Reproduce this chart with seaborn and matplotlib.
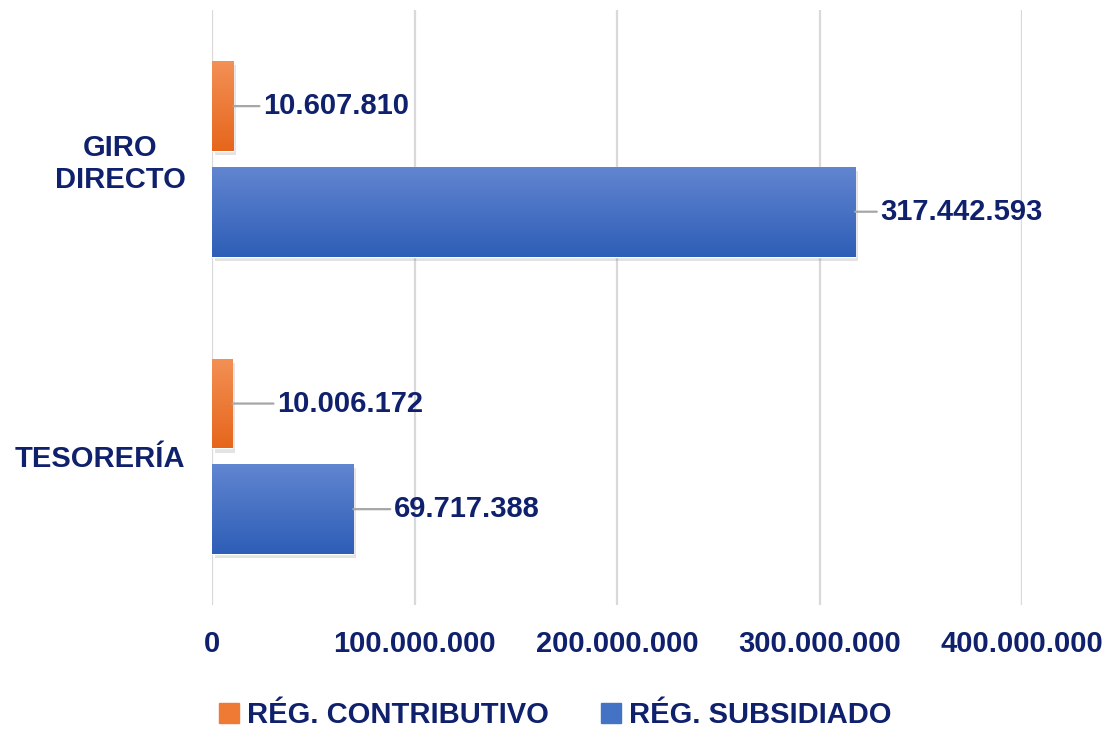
import numpy as np
import pandas as pd
import matplotlib
matplotlib.use("Agg")
import matplotlib.pyplot as plt
import matplotlib.patheffects as pe
from matplotlib.colors import to_rgb
import seaborn as sns

categories = ["GIRO\nDIRECTO", "TESORERÍA"]
series_names = ["RÉG. CONTRIBUTIVO", "RÉG. SUBSIDIADO"]
contributivo = [10607810, 10006172]
subsidiado = [317442593, 69717388]
x_ticks = [0, 100000000, 200000000, 300000000, 400000000]

# label offsets (points) per series, per category
label_offsets = [[21, 32], [18, 29]]

NAVY = "#0F206C"
GRID = "#D9D9D9"
grad = {
    "RÉG. CONTRIBUTIVO": ("#F39055", "#E6661C"),
    "RÉG. SUBSIDIADO": ("#6185D0", "#2E5EB7"),
}
mid_colors = {"RÉG. CONTRIBUTIVO": "#EE7A33", "RÉG. SUBSIDIADO": "#4472C4"}

df = pd.DataFrame({
    "categoria": categories * 2,
    "regimen": [series_names[0]] * 2 + [series_names[1]] * 2,
    "valor": contributivo + subsidiado,
})

sns.set_theme(style="white")
plt.rcParams["font.family"] = ["Liberation Sans", "DejaVu Sans"]
plt.rcParams["font.weight"] = "bold"

fig = plt.figure(figsize=(11.1, 7.29), dpi=100)
ax = fig.add_axes([0.191, 0.170, 0.730, 0.816])

sns.barplot(data=df, y="categoria", x="valor", hue="regimen",
            hue_order=series_names, order=categories, orient="h",
            palette=mid_colors, saturation=1, errorbar=None,
            width=0.71, gap=0.15, ax=ax, legend=False)

# gradient fill + soft shadow on each bar
for cont, name in zip(ax.containers, series_names):
    top, bot = (np.array(to_rgb(c)) for c in grad[name])
    g = np.linspace(0, 1, 64)[:, None, None]
    img = top * (1 - g) + bot * g
    for bar in cont:
        bar.set_path_effects([pe.SimplePatchShadow(offset=(2, -3), alpha=0.15, shadow_rgbFace="#444444"),
                              pe.Normal()])
        x0, y0 = bar.get_x(), bar.get_y()
        w, h = bar.get_width(), bar.get_height()
        im = ax.imshow(img, extent=(x0, x0 + w, y0 + h, y0), origin="upper",
                       aspect="auto", zorder=bar.get_zorder() + 0.1, interpolation="bilinear")
        im.set_clip_path(bar)

ax.set_xlim(0, 400000000)
ax.set_ylim(1.5, -0.5)

# data labels with leader lines
for cont, offs in zip(ax.containers, label_offsets):
    for bar, off in zip(cont, offs):
        v = bar.get_width()
        yc = bar.get_y() + bar.get_height() / 2
        ax.annotate(f"{int(round(v)):,}".replace(",", "."), xy=(v, yc),
                    xytext=(off, 0), textcoords="offset points",
                    ha="left", va="center", fontsize=21, fontweight="bold",
                    color=NAVY, annotation_clip=False,
                    arrowprops=dict(arrowstyle="-", color="#A6A6A6", lw=1.6,
                                    shrinkA=0, shrinkB=0))

ax.set_xticks(x_ticks)
ax.set_xticklabels([f"{t:,}".replace(",", ".") for t in x_ticks])
ax.grid(axis="x", color=GRID, lw=1.6)
ax.set_axisbelow(True)
for s in ax.spines.values():
    s.set_visible(False)
ax.tick_params(axis="x", length=0, pad=18, labelsize=21, labelcolor=NAVY)
ax.tick_params(axis="y", length=0, pad=19, labelsize=21, labelcolor=NAVY)
for lab in ax.get_yticklabels():
    lab.set_fontweight("bold")
    lab.set_multialignment("center")
for lab in ax.get_xticklabels():
    lab.set_fontweight("bold")
ax.set_xlabel("")
ax.set_ylabel("")

handles = [plt.Rectangle((0, 0), 1, 1, color=mid_colors[n]) for n in series_names]
leg = fig.legend(handles, series_names, loc="lower center", bbox_to_anchor=(0.5, -0.036),
                 ncol=2, frameon=False, fontsize=21, handlelength=0.7,
                 handleheight=0.7, handletextpad=0.25, columnspacing=1.8)
for t in leg.get_texts():
    t.set_color(NAVY)
    t.set_fontweight("bold")

fig.savefig("out.png", dpi=100)
